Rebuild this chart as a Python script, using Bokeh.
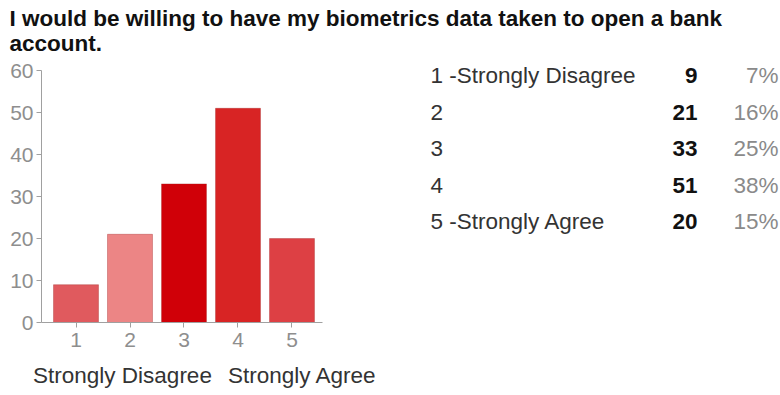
from bokeh.plotting import figure
from bokeh.layouts import column, row
from bokeh.models import Range1d, FixedTicker, LinearAxis, ColumnDataSource
from bokeh.core.properties import value
from bokeh.embed import file_html
from bokeh.resources import INLINE

# ---------------- data ----------------
title_lines = ["I would be willing to have my biometrics data taken to open a bank",
               "account."]
categories = ["1", "2", "3", "4", "5"]
counts = [9, 21, 33, 51, 20]
percents = ["7%", "16%", "25%", "38%", "15%"]
answer_labels = ["1 -Strongly Disagree", "2", "3", "4", "5 -Strongly Agree"]
y_ticks = [0, 10, 20, 30, 40, 50, 60]
scale_labels = ["Strongly Disagree", "Strongly Agree"]
bar_colors = ["#e05a5e", "#ec8585", "#d00008", "#d82424", "#dd4044"]

# ---------------- style / layout constants ----------------
FONT = "Liberation Sans"
FS = "22.5px"
TOTAL_W, TOTAL_H = 780, 395
TITLE_H = 58
LEFT_W = 420
BODY_H = TOTAL_H - TITLE_H
FL, FR, FT, FB = 41, 322, 4, 264   # frame edges inside the body figures
Y60_PX = 12                         # where value 60 sits inside the body figures
PX_PER_UNIT = (FB - Y60_PX) / 60.0
FRAME_H = FB - FT


def bare(fig):
    fig.xaxis.visible = False
    fig.yaxis.visible = False
    fig.xgrid.visible = False
    fig.ygrid.visible = False
    return fig


# ---------------- title ----------------
tfig = bare(figure(width=TOTAL_W, height=TITLE_H,
                   x_range=Range1d(0, TOTAL_W), y_range=Range1d(TITLE_H, 0),
                   output_backend="svg", toolbar_location=None,
                   min_border=0, outline_line_color=None))
tfig.text(x=[9] * len(title_lines), y=[18 + 25 * i for i in range(len(title_lines))],
          text=title_lines, text_font=value(FONT), text_font_size=FS,
          text_font_style="bold", text_color="#111111",
          text_align="left", text_baseline="alphabetic")

# ---------------- bar chart ----------------
p = figure(width=LEFT_W, height=BODY_H,
           x_range=Range1d(0.361, 5.565),
           y_range=Range1d(0, 60 + (Y60_PX - FT) / PX_PER_UNIT),
           output_backend="svg", toolbar_location=None,
           min_border_left=FL, min_border_right=LEFT_W - FR,
           min_border_top=FT, min_border_bottom=BODY_H - FB,
           outline_line_color=None)

xs = list(range(1, len(categories) + 1))
src = ColumnDataSource(dict(x=xs, top=counts, color=bar_colors))
p.vbar(x="x", top="top", bottom=0, width=0.833, fill_color="color",
       line_color="#a02020", line_alpha=0.35, source=src)

p.xgrid.visible = False
p.ygrid.visible = False

for ax in (p.xaxis[0], p.yaxis[0]):
    ax.axis_line_color = "#a0a0a0"
    ax.major_tick_line_color = "#a0a0a0"
    ax.minor_tick_line_color = None
    ax.major_tick_in = 0
    ax.major_tick_out = 5
    ax.major_label_text_color = "#8e8e8e"
    ax.major_label_text_font = FONT
    ax.major_label_text_font_size = "21px"
p.yaxis.major_label_standoff = 3
p.xaxis.major_label_standoff = 5
p.yaxis.bounds = (0, 60)

p.xaxis.ticker = FixedTicker(ticks=xs)
p.xaxis.major_label_overrides = {x: c for x, c in zip(xs, categories)}
p.yaxis.ticker = FixedTicker(ticks=y_ticks)

# scale end labels as a second, bare axis under the first
scale_pos = [1.861, 5.194]
ax2 = LinearAxis(ticker=FixedTicker(ticks=scale_pos),
                 major_label_overrides={x: t for x, t in zip(scale_pos, scale_labels)},
                 axis_line_color=None, major_tick_line_color=None,
                 minor_tick_line_color=None,
                 major_label_text_font=FONT, major_label_text_font_size=FS,
                 major_label_text_color="#333333", major_label_standoff=7)
p.add_layout(ax2, "below")

# ---------------- table ----------------
TW = TOTAL_W - LEFT_W
ROW_H = 36.5
FIRST_ROW = 13         # px below the frame top
n = len(answer_labels)
table = bare(figure(width=TW, height=BODY_H,
                    x_range=Range1d(0, TW), y_range=Range1d(FRAME_H, 0),
                    output_backend="svg", toolbar_location=None,
                    min_border_left=0, min_border_right=0,
                    min_border_top=FT, min_border_bottom=BODY_H - FB,
                    outline_line_color=None))
tsrc = ColumnDataSource(dict(y=[FIRST_ROW + ROW_H * i for i in range(n)],
                             lab=answer_labels,
                             cnt=[str(c) for c in counts], pct=percents,
                             lx=[10] * n, cx=[277] * n, px=[358] * n))
table.text(x="lx", y="y", text="lab", source=tsrc, text_font=value(FONT),
           text_font_size=FS, text_color="#333333",
           text_align="left", text_baseline="middle")
table.text(x="cx", y="y", text="cnt", source=tsrc, text_font=value(FONT),
           text_font_size=FS, text_font_style="bold", text_color="#111111",
           text_align="right", text_baseline="middle")
table.text(x="px", y="y", text="pct", source=tsrc, text_font=value(FONT),
           text_font_size=FS, text_color="#8a8a8a",
           text_align="right", text_baseline="middle")

layout = column(tfig, row(p, table))
open("out.html", "w").write(file_html(layout, INLINE))
